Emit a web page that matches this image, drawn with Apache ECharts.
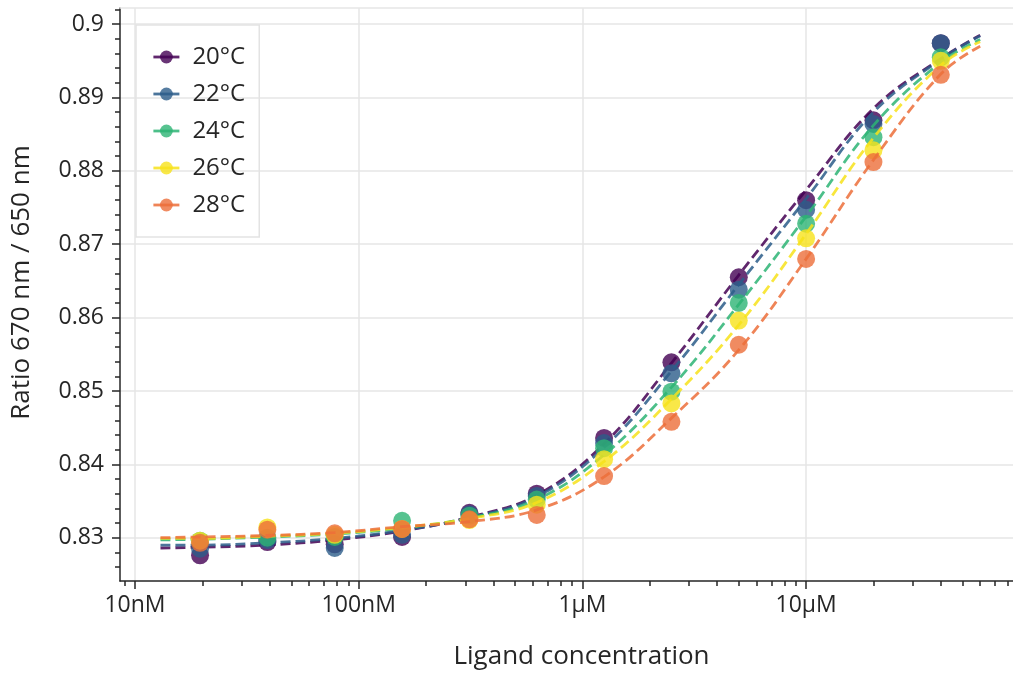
<!DOCTYPE html>
<html><head><meta charset="utf-8">
<script src="https://cdn.jsdelivr.net/npm/echarts@6/dist/echarts.min.js"></script>
<style>html,body{margin:0;padding:0;background:#fff}#c{width:1013px;height:675px}</style>
</head><body><div id="c"></div>
<script>
const temps = ['20°C', '22°C', '24°C', '26°C', '28°C'];
const colors = ['#440154', '#2c5d8a', '#2db474', '#f7e21a', '#ec6e3a'];

// measured points (concentration in nM)
const concPoints = [19.53, 39.06, 78.13, 156.25, 312.5, 625, 1250, 2500, 5000, 10000, 20000, 40000];
const ratio20 = [0.8276, 0.8294, 0.8291, 0.8301, 0.8334, 0.8360, 0.8436, 0.8539, 0.8655, 0.8760, 0.8869, 0.8974];
const ratio22 = [0.8285, 0.8297, 0.8286, 0.8304, 0.8332, 0.8357, 0.8429, 0.8524, 0.8638, 0.8747, 0.8864, 0.8974];
const ratio24 = [0.8296, 0.8300, 0.8301, 0.8323, 0.8330, 0.8352, 0.8422, 0.8499, 0.8620, 0.8728, 0.8846, 0.8955];
const ratio26 = [0.8296, 0.8314, 0.8304, 0.8312, 0.8324, 0.8345, 0.8407, 0.8483, 0.8596, 0.8708, 0.8828, 0.8950];
const ratio28 = [0.8293, 0.8311, 0.8306, 0.8312, 0.8325, 0.8331, 0.8384, 0.8458, 0.8563, 0.8680, 0.8812, 0.8931];

// fitted curves (concentration in nM)
const concFit = [13, 19.5, 39, 78, 156, 312, 625, 1250, 2500, 5000, 10000, 20000, 40000, 60000];
const fit20 = [0.8286, 0.8287, 0.8290, 0.8297, 0.8309, 0.8328, 0.8358, 0.8428, 0.8538, 0.8658, 0.8774, 0.8885, 0.8953, 0.8985];
const fit22 = [0.8290, 0.8290, 0.8293, 0.8299, 0.8310, 0.8327, 0.8356, 0.8423, 0.8527, 0.8645, 0.8762, 0.8880, 0.8952, 0.8984];
const fit24 = [0.8297, 0.8298, 0.8301, 0.8305, 0.8313, 0.8327, 0.8352, 0.8413, 0.8505, 0.8618, 0.8738, 0.8862, 0.8948, 0.8979];
const fit26 = [0.8299, 0.8299, 0.8302, 0.8306, 0.8314, 0.8326, 0.8348, 0.8404, 0.8489, 0.8590, 0.8714, 0.8845, 0.8944, 0.8976];
const fit28 = [0.8300, 0.8301, 0.8303, 0.8307, 0.8315, 0.8322, 0.8338, 0.8383, 0.8463, 0.8556, 0.8680, 0.8815, 0.8932, 0.8970];

const xMajorTicks = [10, 100, 1000, 10000];
const xMajorLabels = ['10nM', '100nM', '1µM', '10µM'];
const xMinorTicks = [9, 20, 30, 40, 50, 60, 70, 80, 90, 200, 300, 400, 500, 600, 700, 800, 900,
  2000, 3000, 4000, 5000, 6000, 7000, 8000, 9000, 20000, 30000, 40000, 50000, 60000, 70000, 80000];
const yMajorTicks = [0.83, 0.84, 0.85, 0.86, 0.87, 0.88, 0.89, 0.90];
const yMinorTicks = [0.826, 0.828, 0.832, 0.834, 0.836, 0.838, 0.842, 0.844, 0.846, 0.848,
  0.852, 0.854, 0.856, 0.858, 0.862, 0.864, 0.866, 0.868, 0.872, 0.874, 0.876, 0.878,
  0.882, 0.884, 0.886, 0.888, 0.892, 0.894, 0.896, 0.898, 0.902];
const xRange = [8.57, 84100];
const yRange = [0.8241, 0.9022];

const ratios = [ratio20, ratio22, ratio24, ratio26, ratio28];
const fits = [fit20, fit22, fit24, fit26, fit28];
const lg = Math.log10;
const FONT = 'Open Sans';
const TXT = '#262626';
const GRIDC = '#e6e6e6';

const xMin = lg(xRange[0]), xMax = lg(xRange[1]);
function xAxisBase(extra) {
  return Object.assign({
    type: 'value', gridIndex: 0, min: xMin, max: xMax,
    axisLine: { show: false, onZero: false },
    axisTick: { show: false }, axisLabel: { show: false }, splitLine: { show: false }
  }, extra);
}
function yAxisBase(extra) {
  return Object.assign({
    type: 'value', gridIndex: 0, min: yRange[0], max: yRange[1],
    axisLine: { show: false, onZero: false },
    axisTick: { show: false }, axisLabel: { show: false }, splitLine: { show: false }
  }, extra);
}

const series = [];
temps.forEach((t, i) => {
  series.push({
    type: 'line', name: t, xAxisIndex: 0, yAxisIndex: 0,
    data: concFit.map((c, j) => [lg(c), fits[i][j]]),
    smooth: 0.4, showSymbol: false, symbol: 'circle', symbolSize: 16,
    lineStyle: { color: colors[i], width: 2.8, type: [10, 5], opacity: 0.85 },
    itemStyle: { color: colors[i], opacity: 0.8 },
    z: 3 + 2 * i, silent: true
  });
});
temps.forEach((t, i) => {
  series.push({
    type: 'scatter', name: t, xAxisIndex: 0, yAxisIndex: 0,
    data: concPoints.map((c, j) => [lg(c), ratios[i][j]]),
    symbol: 'circle', symbolSize: 18,
    itemStyle: { color: colors[i], opacity: 0.8 },
    z: 2 + 2 * i, silent: true
  });
});

const chart = echarts.init(document.getElementById('c'), null, { renderer: 'canvas' });
chart.setOption({
  animation: false,
  backgroundColor: '#fff',
  textStyle: { fontFamily: FONT, color: TXT },
  grid: { left: 120, right: 0, top: 8, bottom: 94, containLabel: false },
  legend: {
    data: temps, orient: 'vertical', left: 136, top: 25,
    padding: [20, 14, 20, 16], itemWidth: 26, itemHeight: 16, itemGap: 13,
    borderColor: '#e3e3e3', borderWidth: 1.5, backgroundColor: 'transparent',
    textStyle: { fontFamily: FONT, fontSize: 24, color: TXT, lineHeight: 24, padding: [0, 0, 0, 8] },
    lineStyle: { type: 'solid', width: 2.8 },
    itemStyle: { borderWidth: 0 }
  },
  xAxis: [
    xAxisBase({
      position: 'bottom',
      axisLine: { show: true, onZero: false, lineStyle: { color: TXT, width: 1.5 } },
      axisTick: { show: true, customValues: xMajorTicks.map(lg), length: 8, lineStyle: { color: TXT, width: 1.5 } },
      axisLabel: {
        show: true, customValues: xMajorTicks.map(lg), fontSize: 23, color: TXT, fontFamily: FONT, margin: 13,
        formatter: v => { const k = xMajorTicks.findIndex(t => Math.abs(lg(t) - v) < 1e-6); return k >= 0 ? xMajorLabels[k] : ''; }
      },
      splitLine: { show: true, lineStyle: { color: GRIDC, width: 1.5 } },
      name: 'Ligand concentration', nameLocation: 'middle', nameGap: 63,
      nameTextStyle: { fontSize: 26, color: TXT, fontFamily: FONT, padding: [0, 0, 0, 30] }
    }),
    xAxisBase({
      position: 'bottom',
      axisTick: { show: true, customValues: xMinorTicks.map(lg), length: 5, lineStyle: { color: TXT, width: 1.5 } }
    }),
    xAxisBase({
      position: 'top',
      axisLine: { show: true, onZero: false, lineStyle: { color: GRIDC, width: 1.5 } }
    })
  ],
  yAxis: [
    yAxisBase({
      position: 'left',
      axisLine: { show: true, onZero: false, lineStyle: { color: TXT, width: 1.5 } },
      axisTick: { show: true, customValues: yMajorTicks, length: 8, lineStyle: { color: TXT, width: 1.5 } },
      axisLabel: {
        show: true, customValues: yMajorTicks, fontSize: 23, color: TXT, fontFamily: FONT, margin: 16,
        formatter: v => String(parseFloat(v.toFixed(3)))
      },
      splitLine: { show: true, lineStyle: { color: GRIDC, width: 1.5 } },
      name: 'Ratio 670 nm / 650 nm', nameLocation: 'middle', nameGap: 85,
      nameTextStyle: { fontSize: 26, color: TXT, fontFamily: FONT, padding: [0, 0, 0, 24] }
    }),
    yAxisBase({
      position: 'left',
      axisTick: { show: true, customValues: yMinorTicks, length: 5, lineStyle: { color: TXT, width: 1.5 } }
    })
  ],
  series: series
});
</script>
</body></html>
